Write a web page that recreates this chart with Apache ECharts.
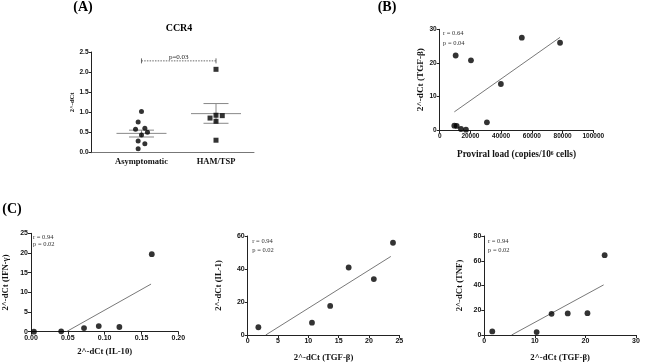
<!DOCTYPE html>
<html><head><meta charset="utf-8">
<script src="https://cdn.jsdelivr.net/npm/echarts@6/dist/echarts.min.js"></script>
<style>html,body{margin:0;padding:0;background:#fff}#c{width:669px;height:363px}</style>
</head><body><div id="c"></div>
<script>
// ---------- Panel A (CCR4) ----------
const groupNames = ['Asymptomatic', 'HAM/TSP'];
const asymValues = [1.02, 0.76, 0.58, 0.61, 0.51, 0.44, 0.29, 0.22, 0.10];
const asymJitter = [0, -0.045, -0.08, 0.045, 0.08, 0, -0.045, 0.045, -0.045];
const hamValues = [2.07, 0.86, 0.93, 0.92, 0.78, 0.31];
const hamJitter = [0, -0.08, 0, 0.084, 0, 0];
const groupMean = [0.48, 0.97];
const groupSemLow = [0.39, 0.73];
const groupSemHigh = [0.56, 1.22];
const sigY = 2.28;
const sigText = 'p=0.03';
// ---------- Panel B ----------
const provLoad = [9520, 11040, 10390, 20350, 13850, 17100, 30740, 39830, 53460, 78350];
const tgfB = [1.3, 1.2, 22.2, 20.75, 0.3, 0.1, 2.3, 13.7, 27.5, 26.0];
const fitB = [[9520, 5.4], [78350, 27.6]];
// ---------- Panel C ----------
const il10 = [0.004, 0.041, 0.072, 0.092, 0.120, 0.164];
const ifng = [0, 0.1, 0.93, 1.44, 1.19, 19.7];
const fitC1 = [[0.048, 0], [0.163, 12.1]];
const tgfC2 = [1.76, 10.6, 13.6, 16.65, 20.8, 23.96];
const il1 = [4.7, 7.5, 17.6, 40.9, 33.9, 55.9];
const fitC2 = [[2.97, 0], [23.6, 47.6]];
const tgfC3 = [1.58, 10.35, 13.3, 16.5, 20.4, 23.8];
const tnf = [2.9, 2.4, 17.1, 17.4, 17.6, 64.5];
const fitC3 = [[5.4, 0], [23.6, 40.5]];

const SERIF = '"Liberation Serif", "DejaVu Serif", serif';
const SANS = '"Liberation Sans", Arial, sans-serif';

function zip(xs, ys) { return xs.map((x, i) => [x, ys[i]]); }

function valAxis(gi, min, max, interval, name, gap, fmt, fs, extra) {
  return Object.assign({
    type: 'value', gridIndex: gi, min: min, max: max, interval: interval,
    name: name, nameLocation: 'middle', nameGap: gap,
    nameTextStyle: { fontFamily: SERIF, fontWeight: 'bold', fontSize: 8.7, color: '#111' },
    axisLine: { show: true, lineStyle: { color: '#222', width: 1 } },
    axisTick: { show: true, length: 3, lineStyle: { color: '#222' } },
    splitLine: { show: false },
    axisLabel: { fontFamily: SANS, fontWeight: 'bold', fontSize: fs || 6.5, color: '#111', margin: 3,
      formatter: fmt || (v => String(v)) }
  }, extra || {});
}

const chart = echarts.init(document.getElementById('c'), null, { renderer: 'canvas' });

const scatterStyle = (gi, data, size, symbol) => ({
  type: 'scatter', xAxisIndex: gi, yAxisIndex: gi, data: data, symbol: symbol || 'circle',
  symbolSize: size, itemStyle: { color: '#000' }, clip: false, silent: true, z: 5
});
const fitLine = (gi, data) => ({
  type: 'line', xAxisIndex: gi, yAxisIndex: gi, data: data, symbol: 'none',
  lineStyle: { color: '#555', width: 0.8 }, silent: true, z: 3
});

const option = {
  animation: false,
  grid: [
    { left: 91.5, top: 52, width: 162.5, height: 100.7 },
    { left: 439.7, top: 29.3, width: 153.6, height: 100.7 },
    { left: 29.3, top: 233.3, width: 149, height: 98.4 },
    { left: 247.7, top: 236, width: 151.6, height: 101.3 },
    { left: 484.3, top: 236, width: 151.7, height: 101.3 }
  ],
  xAxis: [
    valAxis(0, 0.329, 2.51, null, '', 0, null, 6.5, {
      axisLine: { show: true, lineStyle: { color: '#777', width: 1 } },
      axisTick: { show: false },
      axisLabel: { customValues: [1, 2], fontFamily: SERIF, fontWeight: 'bold', fontSize: 8.5, color: '#111', margin: 5,
        formatter: v => groupNames[Math.round(v) - 1] }
    }),
    valAxis(1, 0, 100000, 20000, 'Proviral load (copies/10⁶ cells)', 20, null, 6.5, {
      nameTextStyle: { fontFamily: SERIF, fontWeight: 'bold', fontSize: 9.3, color: '#111' } }),
    valAxis(2, 0, 0.2, 0.05, '2^-dCt (IL-10)', 16, v => v.toFixed(2), 7),
    valAxis(3, 0, 25, 5, '2^-dCt (TGF-β)', 18, null, 7),
    valAxis(4, 0, 30, 10, '2^-dCt (TGF-β)', 18, null, 7)
  ],
  yAxis: [
    valAxis(0, 0, 2.5, 0.5, '2^-dCt', 12, v => v.toFixed(1), 6.5, {
      nameTextStyle: { fontFamily: SERIF, fontWeight: 'bold', fontSize: 6.5, color: '#111' } }),
    valAxis(1, 0, 30, 10, '2^-dCt (TGF-β)', 12, null, 6.5, {
      nameTextStyle: { fontFamily: SERIF, fontWeight: 'bold', fontSize: 9.2, color: '#111' } }),
    valAxis(2, 0, 25, 5, '2^-dCt (IFN-γ)', 21, null, 7),
    valAxis(3, 0, 60, 20, '2^-dCt (IL-1)', 24, null, 7),
    valAxis(4, 0, 80, 20, '2^-dCt (TNF)', 20, null, 7)
  ],
  series: [
    scatterStyle(0, asymValues.map((v, i) => [1 + asymJitter[i], v]), 5, 'circle'),
    scatterStyle(0, hamValues.map((v, i) => [2 + hamJitter[i], v]), 5, 'rect'),
    {
      type: 'custom', xAxisIndex: 0, yAxisIndex: 0, silent: true, z: 4,
      data: groupMean.map((m, i) => [i + 1, m, groupSemLow[i], groupSemHigh[i]]),
      renderItem: function (params, api) {
        const x = api.value(0);
        const pm = api.coord([x, api.value(1)]);
        const pl = api.coord([x, api.value(2)]);
        const ph = api.coord([x, api.value(3)]);
        const st = { stroke: '#888', lineWidth: 1 };
        return { type: 'group', children: [
          { type: 'line', shape: { x1: pm[0] - 25, y1: pm[1], x2: pm[0] + 25, y2: pm[1] }, style: st },
          { type: 'line', shape: { x1: pl[0] - 12.5, y1: pl[1], x2: pl[0] + 12.5, y2: pl[1] }, style: st },
          { type: 'line', shape: { x1: ph[0] - 12.5, y1: ph[1], x2: ph[0] + 12.5, y2: ph[1] }, style: st },
          { type: 'line', shape: { x1: pl[0], y1: pl[1], x2: ph[0], y2: ph[1] }, style: st }
        ] };
      }
    },
    {
      type: 'custom', xAxisIndex: 0, yAxisIndex: 0, silent: true, z: 4,
      data: [[1, 2, sigY]],
      renderItem: function (params, api) {
        const a = api.coord([api.value(0), api.value(2)]);
        const b = api.coord([api.value(1), api.value(2)]);
        const st = { stroke: '#444', lineWidth: 0.8 };
        return { type: 'group', children: [
          { type: 'line', shape: { x1: a[0], y1: a[1], x2: b[0], y2: b[1] }, style: Object.assign({ lineDash: [1.5, 1.2] }, st) },
          { type: 'line', shape: { x1: a[0], y1: a[1] - 2.5, x2: a[0], y2: a[1] + 2.5 }, style: st },
          { type: 'line', shape: { x1: b[0], y1: b[1] - 2.5, x2: b[0], y2: b[1] + 2.5 }, style: st },
          { type: 'text', x: (a[0] + b[0]) / 2, y: a[1] - 0.5,
            style: { text: sigText, fontFamily: SERIF, fontSize: 7, fill: '#222', textAlign: 'center', textVerticalAlign: 'bottom' } }
        ] };
      }
    },
    scatterStyle(1, zip(provLoad, tgfB), 5.8),
    fitLine(1, fitB),
    scatterStyle(2, zip(il10, ifng), 5.8),
    fitLine(2, fitC1),
    scatterStyle(3, zip(tgfC2, il1), 5.8),
    fitLine(3, fitC2),
    scatterStyle(4, zip(tgfC3, tnf), 5.8),
    fitLine(4, fitC3)
  ],
  graphic: [
    { type: 'text', x: 83, y: 7, style: { text: '(A)', fontFamily: SERIF, fontWeight: 'bold', fontSize: 14, fill: '#000', textAlign: 'center', textVerticalAlign: 'middle' } },
    { type: 'text', x: 179, y: 28, style: { text: 'CCR4', fontFamily: SERIF, fontWeight: 'bold', fontSize: 10, fill: '#000', textAlign: 'center', textVerticalAlign: 'middle' } },
    { type: 'text', x: 387, y: 7, style: { text: '(B)', fontFamily: SERIF, fontWeight: 'bold', fontSize: 14, fill: '#000', textAlign: 'center', textVerticalAlign: 'middle' } },
    { type: 'text', x: 12, y: 209, style: { text: '(C)', fontFamily: SERIF, fontWeight: 'bold', fontSize: 14, fill: '#000', textAlign: 'center', textVerticalAlign: 'middle' } },
    { type: 'text', x: 443, y: 33.5, style: { text: 'r = 0.64', fontFamily: SERIF, fontSize: 6.5, fill: '#333', textVerticalAlign: 'middle' } },
    { type: 'text', x: 443, y: 43, style: { text: 'p = 0.04', fontFamily: SERIF, fontSize: 6.5, fill: '#333', textVerticalAlign: 'middle' } },
    { type: 'text', x: 33, y: 237, style: { text: 'r = 0.94', fontFamily: SERIF, fontSize: 6.5, fill: '#333', textVerticalAlign: 'middle' } },
    { type: 'text', x: 33, y: 244.5, style: { text: 'p = 0.02', fontFamily: SERIF, fontSize: 6.5, fill: '#333', textVerticalAlign: 'middle' } },
    { type: 'text', x: 252.3, y: 241, style: { text: 'r = 0.94', fontFamily: SERIF, fontSize: 6.5, fill: '#333', textVerticalAlign: 'middle' } },
    { type: 'text', x: 252.3, y: 250, style: { text: 'p = 0.02', fontFamily: SERIF, fontSize: 6.5, fill: '#333', textVerticalAlign: 'middle' } },
    { type: 'text', x: 488, y: 241, style: { text: 'r = 0.94', fontFamily: SERIF, fontSize: 6.5, fill: '#333', textVerticalAlign: 'middle' } },
    { type: 'text', x: 488, y: 250, style: { text: 'p = 0.02', fontFamily: SERIF, fontSize: 6.5, fill: '#333', textVerticalAlign: 'middle' } }
  ]
};
chart.setOption(option);
</script>
</body></html>
